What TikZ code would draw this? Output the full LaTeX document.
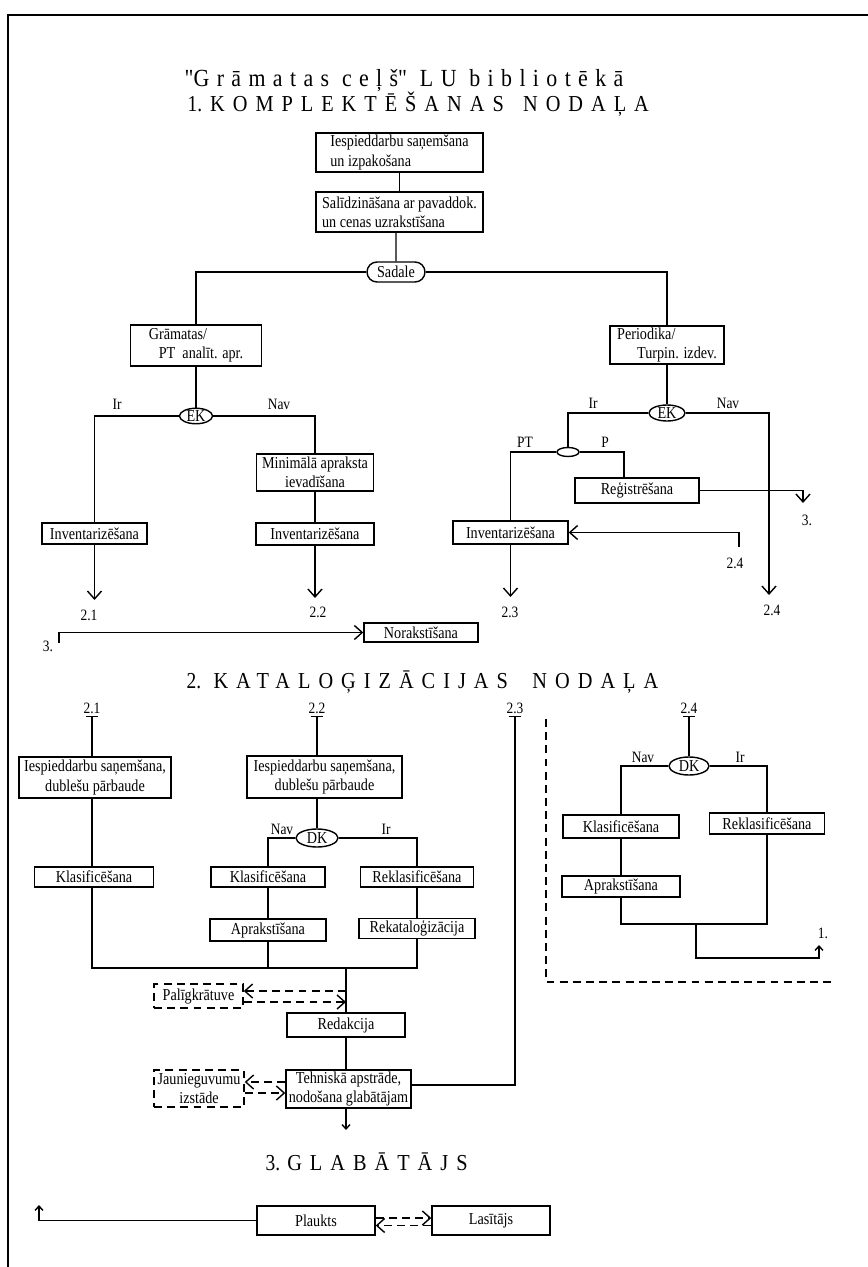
\documentclass[tikz,border=0pt]{standalone}
\usepackage{fontspec}
\setmainfont{Liberation Serif}[FakeStretch=0.85]
\newfontfamily\spaced{Liberation Serif}[FakeStretch=0.89,LetterSpace=35]
\newfontfamily\spacedlow{Liberation Serif}[FakeStretch=0.89,LetterSpace=30]
\newfontfamily\quotefont{Liberation Serif}[FakeStretch=0.89,Ligatures=ResetAll]
\usetikzlibrary{arrows.meta, shapes.geometric, shapes.misc}

\begin{document}
\begin{tikzpicture}[
        x=0.02cm, y=-0.02cm,
        >={Straight Barb[length=4.5pt,width=8pt]},
        every node/.style={font=\fontsize{9.5}{11}\selectfont, inner sep=1pt},
        every path/.style={line width=0.8pt},
        dashline/.style={dash pattern=on 4.5pt off 3pt},
        box/.style 2 args={draw, rectangle, align=center, minimum width=#1*0.02cm, minimum height=#2*0.02cm},
        dbox/.style 2 args={box={#1}{#2}, dashline},
        oval/.style 2 args={draw, ellipse, inner sep=0pt, minimum width=#1*0.02cm, minimum height=#2*0.02cm},
        lbl/.style={font=\fontsize{9}{10}\selectfont},
        ttl/.style={anchor=base west, inner sep=0pt, font=\spaced\fontsize{13}{15}\selectfont},
        barstart/.style={{Bar[width=7pt]}-},
        smallarr/.style={-{Straight Barb[length=2.5pt,width=4.5pt]}}
    ]
        \useasboundingbox (0,0) rectangle (868,1267);
        \draw (8,1267) |- (868,15);

        % 1. Komplektesanas nodala
        \node[ttl, font=\spacedlow\fontsize{14}{16}\selectfont] (ttl1) at (184,87) {{\quotefont"}Grāmatas ceļš{\quotefont"} LU bibliotēkā};
        \node[ttl] (ttl2) at (187,112) {{\rmfamily 1.}\hspace{4.5pt}KOMPLEKTĒŠANAS\hspace{11pt}NODAĻA};

        \node[box={167}{39}, align=left] (izp) at (399.5,152.5) {Iespieddarbu saņemšana\\un izpakošana};
        \node[box={167}{40}, align=left] (sal) at (399.5,212) {Salīdzināšana ar pavaddok.\\un cenas uzrakstīšana};
        \node[draw, rounded rectangle, inner sep=0pt, minimum width=58*0.02cm, minimum height=20*0.02cm] (sad) at (396,272) {Sadale};
        \node[box={131}{41}, align=left] (gra) at (196,345.5) {Grāmatas/\\\hspace*{0.6em}PT\ \ analīt. apr.};
        \node[box={114}{38}, align=left] (per) at (667,345) {Periodika/\\\hspace*{1.2em}Turpin. izdev.};
        \node[oval={33}{14}] (ek1) at (196,416) {EK};
        \node[oval={36}{16}] (ek2) at (667,413) {EK};

        \node[box={105}{21}] (inv1) at (94.5,533.5) {Inventarizēšana};
        \node[box={117}{37}] (min) at (315,472.5) {Minimālā apraksta\\ievadīšana};
        \node[box={118}{22}] (inv2) at (315,534) {Inventarizēšana};
        \node[oval={22}{9}] (pp) at (568,452) {};
        \node[box={124}{25}] (reg) at (637,490.5) {Reģistrēšana};
        \node[box={115}{23}] (inv3) at (510.5,532.5) {Inventarizēšana};
        \node[box={114}{19}] (nor) at (421,632.5) {Norakstīšana};

        \node[lbl] (ir1) at (117,404) {Ir};
        \node[lbl] (nav1) at (279,404) {Nav};
        \node[lbl] (ir2) at (593,403) {Ir};
        \node[lbl] (nav2) at (728,403) {Nav};
        \node[lbl] (pt) at (525,442) {PT};
        \node[lbl] (p) at (605,442) {P};
        \node[lbl] (o21) at (89,615) {2.1};
        \node[lbl] (o22) at (318,612) {2.2};
        \node[lbl] (o23) at (510,612) {2.3};
        \node[lbl] (o24) at (772,610) {2.4};
        \node[lbl] (i24) at (735,563) {2.4};
        \node[lbl] (o3a) at (807,520) {3.};
        \node[lbl] (o3b) at (48,646) {3.};

        \coordinate (e21) at (94.5,600);
        \coordinate (e22) at (315,598);
        \coordinate (e23) at (510.5,597);
        \coordinate (e24) at (769,595);
        \coordinate (e3a) at (803,503);
        \coordinate (s24) at (739,547);
        \coordinate (s3) at (59,643);

        \draw (izp) -- (sal);
        \draw (sal.south -| sad) -- (sad);
        \draw (sad) -| (gra);
        \draw (sad) -| (per);
        \draw (gra) -- (ek1);
        \draw (per) -- (ek2);
        \draw (ek1) -| (inv1);
        \draw (ek1) -| (min);
        \draw (min) -- (inv2);
        \draw[->] (inv1) -- (e21);
        \draw[->] (inv2) -- (e22);
        \draw (ek2) -| (pp);
        \draw[->] (ek2) -| (e24);
        \draw (pp) -| ([xshift=-0.26cm]reg.north);
        \draw (pp) -| (inv3);
        \draw[->] (reg) -| (e3a);
        \draw[->] (inv3) -- (e23);
        \draw[->] (s24) |- (inv3);
        \draw[->] (s3) |- (nor);

        % 2. Katalogizacijas nodala
        \node[ttl] (ttl3) at (186,688) {{\rmfamily 2.}\hspace{7pt}KATALOĢIZĀCIJAS\hspace{14pt}NODAĻA};

        \node[lbl] (n21) at (92,708) {2.1};
        \node[lbl] (n22) at (317,708) {2.2};
        \node[lbl] (n23) at (515,708) {2.3};
        \node[lbl] (n24) at (689,708) {2.4};

        \node[box={152}{41}] (l1) at (95,777.5) {Iespieddarbu saņemšana,\\dublešu pārbaude};
        \node[box={119}{20}] (kl1) at (94,877) {Klasificēšana};
        \node[box={155}{42}] (m1) at (324.5,777) {Iespieddarbu saņemšana,\\dublešu pārbaude};
        \node[oval={42}{18}] (dk1) at (317,838) {DK};
        \node[box={114}{20}] (kl2) at (268,877) {Klasificēšana};
        \node[box={116}{22}] (ap2) at (268,930) {Aprakstīšana};
        \node[box={113}{20}] (rk2) at (417,877) {Reklasificēšana};
        \node[box={116}{20}] (rc2) at (417,928.5) {Rekataloģizācija};
        \node[lbl] (nav3) at (282,829) {Nav};
        \node[lbl] (ir3) at (386,829) {Ir};

        \node[dbox={89}{24}] (pal) at (198.5,996) {Palīgkrātuve};
        \node[box={118}{24}] (red) at (346,1025) {Redakcija};
        \node[box={125}{36}] (teh) at (348.5,1089) {Tehniskā apstrāde,\\nodošana glabātājam};
        \node[dbox={90}{37}] (jau) at (199,1088.5) {Jaunieguvumu\\izstāde};

        \coordinate (j2) at (346,968);
        \coordinate (pu) at (346,991);
        \coordinate (pd) at (346,1002);
        \coordinate (ju) at ([yshift=0.14cm]teh.west);
        \coordinate (jd) at ([yshift=-0.08cm]teh.west);
        \coordinate (e3b) at (346,1130);

        \draw[barstart] (n21.south) -- (n21.south |- l1.north);
        \draw (l1.south -| n21) -- (kl1.north -| n21);
        \draw[barstart] (n22.south) -- (n22.south |- m1.north);
        \draw (m1.south -| dk1) -- (dk1);
        \draw (dk1) -| (kl2);
        \draw (kl2) -- (ap2);
        \draw (dk1) -| (rk2);
        \draw (rk2) -- (rc2);
        \draw (kl1.south -| n21) |- (rc2.south |- j2) -- (rc2.south);
        \draw (ap2) -- (ap2 |- j2);
        \draw (j2) -- (red);
        \draw[dashline, ->] (pu) -- (pu -| pal.east);
        \draw[dashline, ->] (pd -| pal.east) -- (pd);
        \draw (red.south -| j2) -- (teh.north -| j2);
        \draw[dashline, ->] (ju) -- (ju -| jau.east);
        \draw[dashline, ->] (jd -| jau.east) -- (jd);
        \draw[barstart] (n23.south) |- ([yshift=0.08cm]teh.east);
        \draw[smallarr] (teh.south -| e3b) -- (e3b);

        % dashed frame
        \draw[dashline] (546,719) |- (832,982);

        \node[oval={40}{18}] (dk2) at (689,766) {DK};
        \node[box={116}{23}] (kl3) at (621,826.5) {Klasificēšana};
        \node[box={118}{21}] (ap3) at (621,886.5) {Aprakstīšana};
        \node[box={115}{21}] (rk3) at (767,823.5) {Reklasificēšana};
        \node[lbl] (nav4) at (643,757) {Nav};
        \node[lbl] (ir4) at (740,757) {Ir};
        \node[lbl] (o1) at (823,933) {1.};

        \coordinate (j3) at (696,924);
        \coordinate (e1) at (819,945);

        \draw[barstart] (n24.south) -- (dk2);
        \draw (dk2) -| (kl3);
        \draw (kl3) -- (ap3);
        \draw (dk2) -| (rk3);
        \draw (ap3) |- (j3) -| (rk3);
        \draw[smallarr] (j3) -- ++(0,34) -| (e1);

        % 3. Glabatajs
        \node[ttl] (ttl4) at (265,1170) {{\rmfamily 3.}\hspace{4pt}GLABĀTĀJS};
        \node[box={118}{29}] (pl) at (316,1220.5) {Plaukts};
        \node[box={118}{29}] (la) at (491,1220.5) {Lasītājs};
        \coordinate (e1b) at (39,1205);

        \draw[dashline, ->] ([yshift=0.05cm]pl.east) -- ([yshift=0.05cm]la.west);
        \draw[dashline, ->] ([yshift=-0.1cm]la.west) -- ([yshift=-0.1cm]pl.east);
        \draw[smallarr] (pl) -| (e1b);
    \end{tikzpicture}
\end{document}
